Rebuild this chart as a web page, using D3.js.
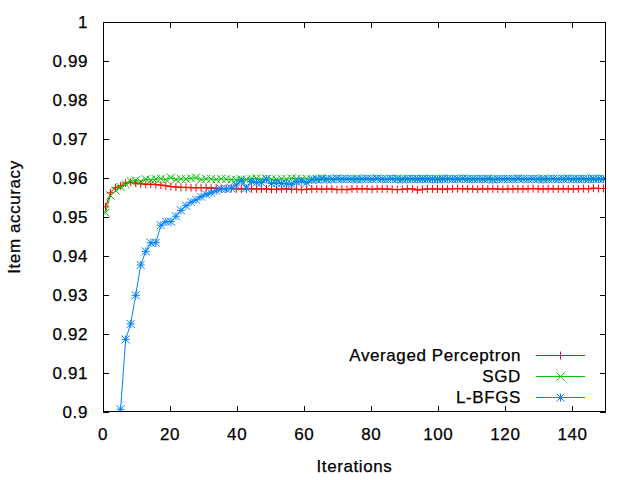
<!DOCTYPE html>
<html><head><meta charset="utf-8">
<script src="https://cdn.jsdelivr.net/npm/d3@7"></script>
<style>body{margin:0;background:#fff}svg text{font-family:"Liberation Sans",Arial,sans-serif;font-size:17px;letter-spacing:0.6px;fill:#000;stroke:#000;stroke-width:0.25px}</style>
</head><body><svg id="c" width="640" height="480"></svg>
<script>
const seriesNames = ["Averaged Perceptron","SGD","L-BFGS"];
const seriesColors = ["#ff0000","#00c000","#0080ff"];
const xTicks = [0,20,40,60,80,100,120,140];
const yTicks = [0.9,0.91,0.92,0.93,0.94,0.95,0.96,0.97,0.98,0.99,1];
const yTickLabels = ["0.9","0.91","0.92","0.93","0.94","0.95","0.96","0.97","0.98","0.99","1"];
// sample positions (iterations) – points are spaced 1.5 apart
const samplePos = d3.range(100).map(k => 0.75 + 1.5*k);
const perceptron = [0.9526,0.9562,0.9575,0.9580,0.9587,0.9589,0.9587,0.9585,0.9584,0.9584,
 0.9583,0.9582,0.9580,0.9578,0.9577,0.9576,0.9576,0.9575,0.9575,0.9575,
 0.9575,0.9574,0.9574,0.9573,0.9573,0.9573,0.9572,0.9572,0.9572,0.9572,
 0.9572,0.9572,0.9572,0.9571,0.9571,0.9572,0.9572,0.9571,0.9571,0.9570,
 0.9571,0.9572,0.9572,0.9571,0.9572,0.9572,0.9570,0.9571,0.9570,0.9572,
 0.9572,0.9572,0.9572,0.9571,0.9572,0.9572,0.9572,0.9571,0.9570,0.9571,
 0.9572,0.9572,0.9569,0.9571,0.9572,0.9572,0.9572,0.9571,0.9572,0.9572,
 0.9573,0.9572,0.9572,0.9572,0.9571,0.9572,0.9572,0.9572,0.9572,0.9571,
 0.9572,0.9572,0.9572,0.9572,0.9572,0.9573,0.9572,0.9572,0.9572,0.9572,
 0.9572,0.9572,0.9572,0.9572,0.9572,0.9573,0.9572,0.9574,0.9573,0.9573];
const sgd = [0.9511,0.9555,0.9568,0.9577,0.9584,0.9592,0.9594,0.9591,0.9597,0.9595,
 0.9597,0.9598,0.9596,0.9601,0.9596,0.9598,0.9597,0.9599,0.9601,0.9596,
 0.9598,0.9597,0.9596,0.9598,0.9597,0.9596,0.9595,0.9597,0.9596,0.9598,
 0.9599,0.9597,0.9598,0.9597,0.9596,0.9598,0.9597,0.9599,0.9598,0.9597,
 0.9598,0.9597,0.9598,0.9600,0.9598,0.9597,0.9599,0.9598,0.9597,0.9598,
 0.9599,0.9598,0.9598,0.9597,0.9599,0.9598,0.9597,0.9598,0.9599,0.9598,
 0.9598,0.9597,0.9598,0.9599,0.9597,0.9598,0.9598,0.9599,0.9598,0.9597,
 0.9598,0.9599,0.9598,0.9598,0.9597,0.9598,0.9599,0.9598,0.9598,0.9597,
 0.9598,0.9598,0.9599,0.9598,0.9597,0.9598,0.9598,0.9599,0.9598,0.9598,
 0.9597,0.9598,0.9599,0.9598,0.9598,0.9598,0.9597,0.9599,0.9598,0.9598];
const lbfgsStart = 3;
const lbfgs = [0.9007,0.9186,0.9226,0.9299,0.9377,0.9412,0.9434,0.9434,0.9479,0.9488,
 0.9488,0.9502,0.9517,0.9529,0.9538,0.9544,0.9552,0.9558,0.9562,0.9567,
 0.9572,0.9572,0.9574,0.9582,0.9593,0.9574,0.9591,0.9588,0.9588,0.9597,
 0.9586,0.9587,0.9586,0.9585,0.9584,0.9590,0.9592,0.9588,0.9595,0.9596,
 0.9597,0.9596,0.9597,0.9598,0.9597,0.9598,0.9597,0.9596,0.9597,0.9598,
 0.9597,0.9598,0.9597,0.9597,0.9598,0.9597,0.9596,0.9597,0.9598,0.9597,
 0.9597,0.9598,0.9597,0.9596,0.9597,0.9598,0.9597,0.9597,0.9598,0.9597,
 0.9597,0.9598,0.9597,0.9597,0.9596,0.9597,0.9598,0.9597,0.9597,0.9598,
 0.9597,0.9597,0.9598,0.9597,0.9596,0.9597,0.9598,0.9597,0.9597,0.9598,
 0.9597,0.9597,0.9598,0.9597,0.9597,0.9598,0.9597];

const svg = d3.select("#c");
const L=103, R=606, T=22, B=412;
const x = d3.scaleLinear().domain([0,150]).range([L,R]);
const y = d3.scaleLinear().domain([0.9,1]).range([B,T]);
const tl = 6;

// ticks (inward, mirrored)
const g = svg.append("g").attr("stroke","#000").attr("stroke-width",1);
xTicks.forEach(t=>{
  const px = Math.round(x(t))+0.5;
  g.append("line").attr("x1",px).attr("x2",px).attr("y1",B).attr("y2",B-tl);
  g.append("line").attr("x1",px).attr("x2",px).attr("y1",T).attr("y2",T+tl);
});
yTicks.forEach(t=>{
  const py = Math.round(y(t))+0.5;
  g.append("line").attr("x1",L).attr("x2",L+tl).attr("y1",py).attr("y2",py);
  g.append("line").attr("x1",R).attr("x2",R-tl).attr("y1",py).attr("y2",py);
});
xTicks.forEach(t=>{
  svg.append("text").attr("x",x(t)).attr("y",440).attr("text-anchor","middle").text(t);
});
yTicks.forEach((t,i)=>{
  svg.append("text").attr("x",88).attr("y",y(t)).attr("dy","0.35em").attr("text-anchor","end").text(yTickLabels[i]);
});
svg.append("text").attr("x",(L+R)/2).attr("y",472).attr("text-anchor","middle").text("Iterations");
svg.append("text").attr("transform",`translate(20,${(T+B)/2}) rotate(-90)`).attr("text-anchor","middle").text("Item accuracy");

svg.append("clipPath").attr("id","clip").append("rect").attr("x",L).attr("y",T-6).attr("width",R-L).attr("height",B-T+6);

function marker(sel, type, cx, cy, color){
  const s=4;
  const p = d3.path();
  if(type===0||type===2){ p.moveTo(cx-s,cy); p.lineTo(cx+s,cy); p.moveTo(cx,cy-s); p.lineTo(cx,cy+s); }
  if(type===1||type===2){ p.moveTo(cx-s,cy-s); p.lineTo(cx+s,cy+s); p.moveTo(cx-s,cy+s); p.lineTo(cx+s,cy-s); }
  sel.append("path").attr("d",p.toString()).attr("stroke",color).attr("stroke-width",1).attr("fill","none");
}

const datasets = [
  perceptron.map((v,i)=>[samplePos[i],v]),
  sgd.map((v,i)=>[samplePos[i],v]),
  lbfgs.map((v,i)=>[samplePos[i+lbfgsStart],v])
];
const line = d3.line().x(d=>x(d[0])).y(d=>y(d[1]));
const plot = svg.append("g").attr("clip-path","url(#clip)");
datasets.forEach((ds,si)=>{
  const gg = plot.append("g");
  gg.append("path").attr("d",line(ds)).attr("fill","none").attr("stroke",seriesColors[si]).attr("stroke-width",1);
  ds.forEach(d=>marker(gg, si, x(d[0]), y(d[1]), seriesColors[si]));
});

// border
svg.append("rect").attr("x",L+0.5).attr("y",T+0.5).attr("width",R-L-1).attr("height",B-T-1).attr("fill","none").attr("stroke","#000");

// legend
const legY = [355,376,397];
seriesNames.forEach((n,i)=>{
  svg.append("text").attr("x",521).attr("y",legY[i]).attr("dy","0.35em").attr("text-anchor","end").text(n);
  svg.append("line").attr("x1",536).attr("x2",585).attr("y1",legY[i]+0.5).attr("y2",legY[i]+0.5).attr("stroke",seriesColors[i]);
  marker(svg, i, 560.5, legY[i]+0.5, seriesColors[i]);
});
</script></body></html>
